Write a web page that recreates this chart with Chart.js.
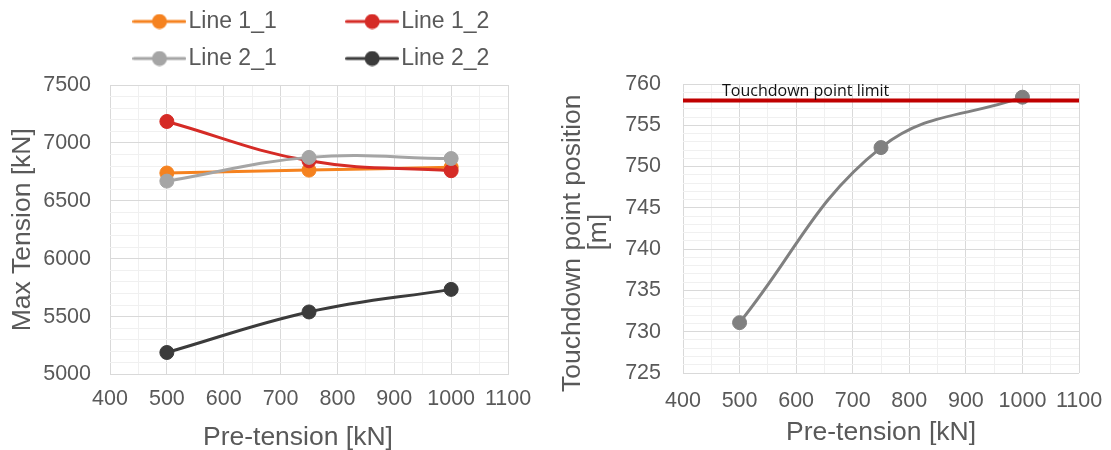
<!DOCTYPE html>
<html><head><meta charset="utf-8">
<script src="https://cdn.jsdelivr.net/npm/chart.js@4.4.0/dist/chart.umd.min.js"></script>
<style>
html,body{margin:0;padding:0;background:#fff;overflow:hidden;width:1111px;height:450px;position:relative}
canvas{position:absolute}
#c1{left:0;top:-4px}
#c2{left:540px;top:-6px}
</style></head><body>
<canvas id="c1" width="540" height="456"></canvas>
<canvas id="c2" width="571" height="456"></canvas>
<script>
// ---------- data ----------
const preTension = [500, 750, 1000];
const seriesNames = ['Line 1_1', 'Line 1_2', 'Line 2_1', 'Line 2_2'];
const line11 = [6740, 6765, 6790];
const line12 = [7185, 6845, 6760];
const line21 = [6670, 6875, 6865];
const line22 = [5190, 5540, 5735];
const touchdown = [731.1, 752.3, 758.4];
const limitValue = 758;
const limitLabel = 'Touchdown point limit';
const limitLabelX = 469;
const xRange = [400, 1100];
const leftYRange = [5000, 7500];
const rightYRange = [725, 760];
const leftXTitle = 'Pre-tension [kN]';
const leftYTitle = 'Max Tension [kN]';
const rightXTitle = 'Pre-tension [kN]';
const rightYTitle = ['Touchdown point position', '[m]'];

// ---------- styles ----------
const FAM = "'Liberation Sans', Arial, sans-serif";
const TXT = '#595959';
const MAJOR = '#D9D9D9';
const MINOR = '#F0F0F0';
const colors = ['#F5821F', '#D52B26', '#A5A5A5', '#3B3B3B'];
Chart.defaults.font.family = FAM;

function legendSymbol(color) {
  const c = document.createElement('canvas');
  c.width = 54; c.height = 16;
  const g = c.getContext('2d');
  g.strokeStyle = color; g.lineWidth = 3; g.lineCap = 'round';
  g.beginPath(); g.moveTo(1.5, 8); g.lineTo(52.5, 8); g.stroke();
  g.fillStyle = color;
  g.beginPath(); g.arc(27, 8, 7.5, 0, Math.PI * 2); g.fill();
  return c;
}
const symbols = colors.map(legendSymbol);

function pts(ys) { return preTension.map((x, i) => ({x: x, y: ys[i]})); }

function xScale(pad, height, titleText, titlePadBottom) {
  return {
    type: 'linear', min: xRange[0], max: xRange[1],
    ticks: {stepSize: 50, autoSkip: false, maxTicksLimit: 1000, maxRotation: 0, minRotation: 0,
      padding: pad, color: TXT, font: {size: 21.5, family: FAM},
      callback: v => (v % 100 === 0 ? String(v) : '')},
    grid: {drawTicks: false, lineWidth: 1,
      color: c => (c.tick && c.tick.value % 100 === 0 ? MAJOR : MINOR)},
    border: {display: false},
    title: {display: true, text: titleText, color: TXT,
      font: {size: 26.5, family: FAM, lineHeight: 1}, padding: {top: 0, bottom: titlePadBottom}},
    afterFit: s => { s.height = height; s.paddingLeft = 0; s.paddingRight = 0; }
  };
}
function yScale(range, step, majorStep, pad, width, titleText, titlePadTop) {
  return {
    type: 'linear', min: range[0], max: range[1],
    ticks: {stepSize: step, autoSkip: false, maxTicksLimit: 1000, padding: pad, color: TXT,
      font: {size: 21.5, family: FAM},
      callback: v => (Math.abs(v % majorStep) < 1e-9 ? String(v) : '')},
    grid: {drawTicks: false, lineWidth: 1,
      color: c => (c.tick && Math.abs(c.tick.value % majorStep) < 1e-9 ? MAJOR : MINOR)},
    border: {display: false},
    title: {display: true, text: titleText, color: TXT,
      font: {size: 26.5, family: FAM, lineHeight: 1}, padding: {top: titlePadTop, bottom: 0}},
    afterFit: s => { s.width = width; s.paddingTop = 0; s.paddingBottom = 0; }
  };
}

// ---------- left chart ----------
const leftSeries = [line11, line12, line21, line22];
new Chart(document.getElementById('c1'), {
  type: 'line',
  data: {
    datasets: leftSeries.map((ys, i) => ({
      label: seriesNames[i], data: pts(ys),
      borderColor: colors[i], backgroundColor: colors[i],
      borderWidth: 3, pointRadius: 7, pointBorderWidth: 1, tension: 0.4,
      order: leftSeries.length - i
    }))
  },
  options: {
    responsive: false, animation: false, devicePixelRatio: 1, events: [],
    layout: {padding: {left: 0, right: 32, top: 0, bottom: 0}},
    plugins: {
      tooltip: {enabled: false},
      legend: {
        position: 'top', align: 'end',
        labels: {
          usePointStyle: true, pointStyleWidth: 35, padding: 14, color: TXT,
          font: {size: 23, family: FAM},
          generateLabels(chart) {
            const items = Chart.defaults.plugins.legend.labels.generateLabels(chart);
            items.sort((a, b) => a.datasetIndex - b.datasetIndex);
            items.forEach(it => {
              it.pointStyle = symbols[it.datasetIndex];
              it.text = it.text + (it.datasetIndex % 2 === 0 ? ' '.repeat(10) : '\u2009');
            });
            return items;
          }
        }
      }
    },
    scales: {
      x: xScale(12, 77.5, leftXTitle + '   ', 1),
      xTop: {type: 'linear', position: 'top', min: 0, max: 1, display: true,
        grid: {display: false}, border: {display: false}, ticks: {display: false},
        afterFit: s => { s.height = 5; }},
      y: yScale(leftYRange, 100, 500, 19, 110, leftYTitle, 9.5)
    }
  }
});

// ---------- right chart ----------
const limitLabelPlugin = {
  id: 'limitLabel',
  afterDatasetsDraw(chart) {
    const {ctx, scales} = chart;
    ctx.save();
    ctx.font = "16px 'Open Sans', sans-serif";
    ctx.fillStyle = '#111';
    ctx.textBaseline = 'alphabetic';
    ctx.textAlign = 'left';
    ctx.fillText(limitLabel, scales.x.getPixelForValue(limitLabelX), scales.y.getPixelForValue(limitValue) - 5);
    ctx.restore();
  }
};
new Chart(document.getElementById('c2'), {
  type: 'line',
  data: {
    datasets: [
      {label: 'Touchdown point limit', data: [{x: xRange[0], y: limitValue}, {x: xRange[1], y: limitValue}],
        borderColor: '#C00000', backgroundColor: '#C00000', borderWidth: 4, pointRadius: 0, order: 0},
      {label: 'Touchdown point position', data: pts(touchdown),
        borderColor: '#808080', backgroundColor: '#808080', borderWidth: 3,
        pointRadius: 7, pointBorderWidth: 1, tension: 0.4, order: 1}
    ]
  },
  options: {
    responsive: false, animation: false, devicePixelRatio: 1, events: [],
    layout: {padding: {left: 0, right: 32, top: 90, bottom: 0}},
    plugins: {tooltip: {enabled: false}, legend: {display: false}},
    scales: {
      x: xScale(15.5, 77, rightXTitle, 4),
      y: yScale(rightYRange, 1, 5, 22, 143, [rightYTitle[0] + '    ', rightYTitle[1] + ' '], 19)
    }
  },
  plugins: [limitLabelPlugin]
});
</script>
</body></html>
